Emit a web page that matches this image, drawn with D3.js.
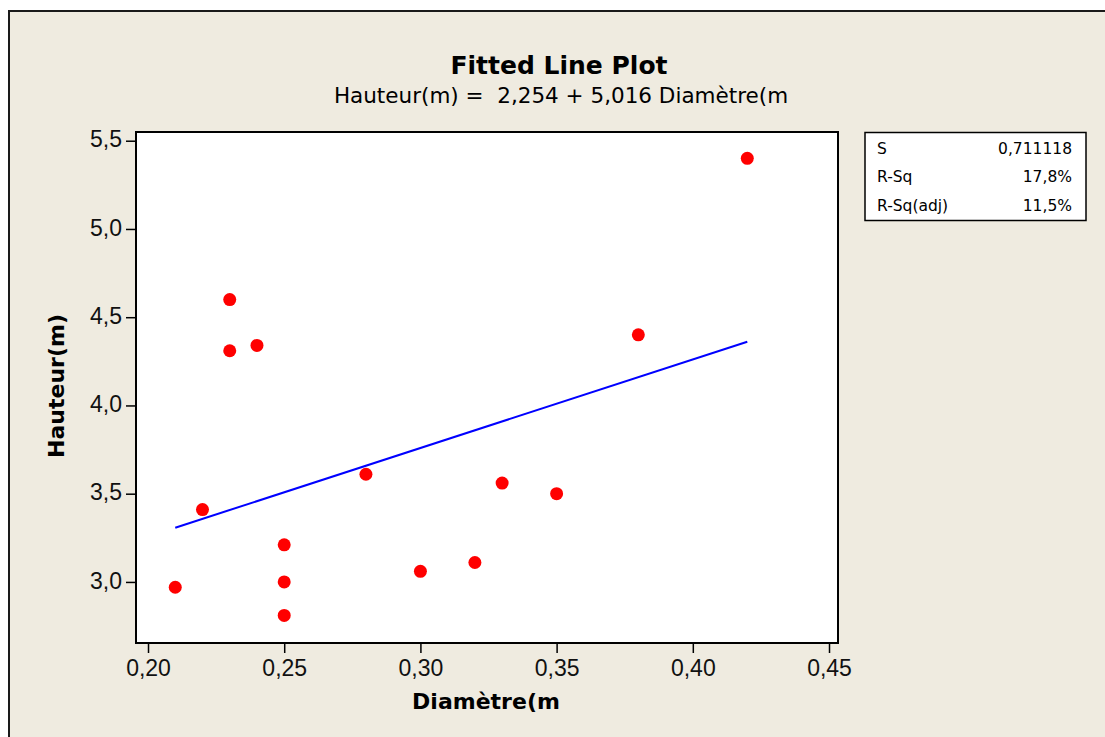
<!DOCTYPE html>
<html>
<head>
<meta charset="utf-8">
<script src="https://cdn.jsdelivr.net/npm/d3@7"></script>
<style>
  body { margin: 0; background: #fff; }
  svg { display: block; font-family: "DejaVu Sans", Verdana, sans-serif; }
  .tick text { font-size: 23px; fill: #111; }
  .tick line { stroke: #000; stroke-width: 1.5; }
</style>
</head>
<body>
<svg width="1105" height="737"></svg>
<script>
// data
const diametre = [0.21, 0.22, 0.23, 0.23, 0.24, 0.25, 0.25, 0.25, 0.28, 0.30, 0.32, 0.33, 0.35, 0.38, 0.42]
const hauteur  = [2.97, 3.41, 4.60, 4.31, 4.34, 3.21, 3.00, 2.81, 3.61, 3.06, 3.11, 3.56, 3.50, 4.40, 5.40]
const xTicks = [0.20, 0.25, 0.30, 0.35, 0.40, 0.45]
const yTicks = [3.0, 3.5, 4.0, 4.5, 5.0, 5.5]
// regression coefficients from the title
const intercept = 2.254
const slope = 5.016
const statLabels = ['S', 'R-Sq', 'R-Sq(adj)']
const statValues = ['0,711118', '17,8%', '11,5%']

const svg = d3.select('svg')

// layout
const plot = { left: 136, right: 838, top: 132, bottom: 643 }

// frame around the whole graph
svg.append('rect')
  .attr('x', 9).attr('y', 11)
  .attr('width', 1105).attr('height', 740)
  .attr('fill', '#efebe0')
  .attr('stroke', '#1a1a1a')
  .attr('stroke-width', 2)

// scales (domain is the full extent of the data region)
const x = d3.scaleLinear().domain([0.19559, 0.45330]).range([plot.left, plot.right])
const y = d3.scaleLinear().domain([2.654, 5.5494]).range([plot.bottom, plot.top])

const fr = d3.formatLocale({ decimal: ',', thousands: '.', grouping: [3], currency: ['', ''] })

// data region
svg.append('rect')
  .attr('x', plot.left).attr('y', plot.top)
  .attr('width', plot.right - plot.left).attr('height', plot.bottom - plot.top)
  .attr('fill', '#fff')
  .attr('stroke', '#000')
  .attr('stroke-width', 2)

// axes
const xAxis = svg.append('g')
  .attr('transform', `translate(0,${plot.bottom})`)
  .call(d3.axisBottom(x).tickValues(xTicks).tickFormat(fr.format('.2f')).tickSize(10).tickPadding(7).tickSizeOuter(0))
xAxis.select('.domain').remove()

const yAxis = svg.append('g')
  .attr('transform', `translate(${plot.left},0)`)
  .call(d3.axisLeft(y).tickValues(yTicks).tickFormat(fr.format('.1f')).tickSize(10).tickPadding(4).tickSizeOuter(0))
yAxis.select('.domain').remove()
yAxis.selectAll('.tick text').attr('dy', '0.27em')

// fitted line
const xr = d3.extent(diametre)
svg.append('path')
  .datum(xr)
  .attr('d', d3.line().x(d => x(d)).y(d => y(intercept + slope * d)))
  .attr('fill', 'none')
  .attr('stroke', '#0000ff')
  .attr('stroke-width', 2)

// points
svg.selectAll('circle.pt')
  .data(diametre)
  .enter()
  .append('circle')
  .attr('class', 'pt')
  .attr('cx', d => x(d))
  .attr('cy', (d, i) => y(hauteur[i]))
  .attr('r', 6.5)
  .attr('fill', '#ff0000')

// titles
svg.append('text')
  .attr('x', 559).attr('y', 74)
  .attr('text-anchor', 'middle')
  .style('font-size', '25px').style('font-weight', 'bold')
  .text('Fitted Line Plot')

svg.append('text')
  .attr('x', 561).attr('y', 103)
  .attr('text-anchor', 'middle')
  .style('font-size', '21.5px').style('white-space', 'pre')
  .text('Hauteur(m) =  2,254 + 5,016 Diamètre(m')

svg.append('text')
  .attr('x', 486).attr('y', 709)
  .attr('text-anchor', 'middle')
  .style('font-size', '22px').style('font-weight', 'bold')
  .text('Diamètre(m')

svg.append('text')
  .attr('transform', 'translate(63.5,386) rotate(-90)')
  .attr('text-anchor', 'middle')
  .style('font-size', '22px').style('font-weight', 'bold')
  .text('Hauteur(m)')

// stats box
const box = svg.append('g')
box.append('rect')
  .attr('x', 865).attr('y', 132.5)
  .attr('width', 221).attr('height', 88)
  .attr('fill', '#fff')
  .attr('stroke', '#000')
  .attr('stroke-width', 1.5)

box.selectAll('text.lab')
  .data(statLabels)
  .enter()
  .append('text')
  .attr('class', 'lab')
  .attr('x', 877)
  .attr('y', (d, i) => 154 + i * 28.3)
  .style('font-size', '15.5px')
  .text(d => d)

box.selectAll('text.val')
  .data(statValues)
  .enter()
  .append('text')
  .attr('class', 'val')
  .attr('x', 1072)
  .attr('y', (d, i) => 154 + i * 28.3)
  .attr('text-anchor', 'end')
  .style('font-size', '15.5px')
  .text(d => d)
</script>
</body>
</html>
